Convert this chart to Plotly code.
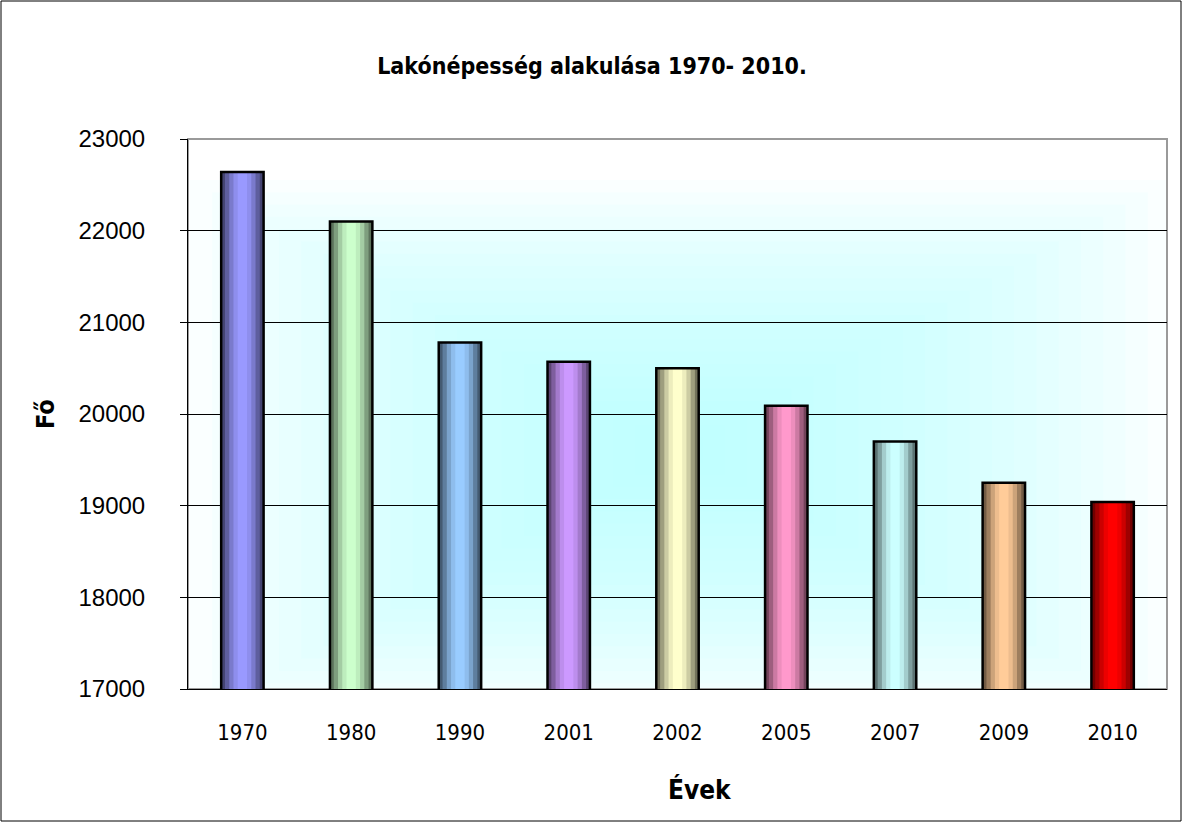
import plotly.graph_objects as go

years = ["1970", "1980", "1990", "2001", "2002", "2005", "2007", "2009", "2010"]
population = [22640, 22100, 20780, 20570, 20500, 20090, 19700, 19250, 19040]
light_colors = ["#9999FF", "#CCFFCC", "#99CCFF", "#CC99FF", "#FFFFCC",
                "#FF99CC", "#CCFFFF", "#FFCC99", "#FF0000"]
y_ticks = [17000, 18000, 19000, 20000, 21000, 22000, 23000]

title_text = "Lakónépesség alakulása 1970- 2010."
x_title = "Évek"
y_title = "Fő"

W, H = 1183, 823
L, R, T, B = 188, 1167, 139, 689
NARROW = "DejaVu Sans Condensed, Liberation Sans Narrow, Arial Narrow, sans-serif"
REG = "Liberation Sans, Arial, sans-serif"


def hex2rgb(h):
    h = h.lstrip("#")
    return [int(h[i:i + 2], 16) for i in (0, 2, 4)]


def mix(c, f):
    r, g, b = hex2rgb(c)
    return "rgb(%d,%d,%d)" % (r * f, g * f, b * f)


fig = go.Figure()
bar_w = 0.39
steps = [(1.0, 0.45), (0.82, 0.62), (0.62, 0.8), (0.42, 0.93), (0.22, 1.0)]
for frac, shade in steps:
    fig.add_trace(go.Bar(
        x=years, y=population, width=bar_w * frac,
        marker=dict(color=[mix(c, shade) for c in light_colors], line=dict(width=0)),
        hoverinfo="skip", showlegend=False,
    ))
fig.add_trace(go.Bar(
    x=years, y=population, width=bar_w,
    marker=dict(color="rgba(0,0,0,0)", line=dict(color="black", width=2.5)),
    showlegend=False,
))

pw, ph = R - L, B - T
shapes = []
# soft rectangular background glow
N = 22
cx, cy = (680 - L) / pw, (B - 450) / ph
hw, hh = 490 / pw, 270 / ph
for i in range(N):
    s = 1 - i / N
    shapes.append(dict(type="rect", xref="paper", yref="paper",
                       x0=max(0, cx - hw * s), x1=min(1, cx + hw * s),
                       y0=max(0, cy - hh * s), y1=min(1, cy + hh * s),
                       fillcolor="#B4F8FA", opacity=0.065, line=dict(width=0),
                       layer="below"))
# plot area grey frame
shapes.append(dict(type="rect", xref="paper", yref="paper", x0=0, x1=1, y0=0, y1=1,
                   line=dict(color="#9a9a9a", width=2), layer="below"))
# outer chart border
shapes.append(dict(type="rect", xref="paper", yref="paper",
                   x0=(1 - L) / pw, x1=(1181 - L) / pw,
                   y0=(B - 821) / ph, y1=(B - 1) / ph,
                   line=dict(color="black", width=1)))

fig.update_layout(
    width=W, height=H,
    margin=dict(l=L, r=W - R, t=T, b=H - B),
    paper_bgcolor="white", plot_bgcolor="white",
    barmode="overlay",
    showlegend=False,
    title=dict(text=title_text, x=592 / W, xanchor="center", y=1 - 66 / H, yanchor="middle",
               font=dict(family=NARROW, size=23, color="black", weight="bold")),
    shapes=shapes,
    annotations=[
        dict(text=x_title, xref="paper", yref="paper", x=(700 - L) / pw, y=(B - 789) / ph,
             showarrow=False, xanchor="center", yanchor="middle",
             font=dict(family=NARROW, size=26, color="black", weight="bold")),
        dict(text=y_title, xref="paper", yref="paper", x=(45 - L) / pw, y=(B - 414) / ph,
             showarrow=False, xanchor="center", yanchor="middle", textangle=-90,
             font=dict(family=NARROW, size=25, color="black", weight="bold")),
    ],
)
fig.update_xaxes(
    type="category", showgrid=False, showline=True, linecolor="black", linewidth=1,
    ticks="", ticklabelstandoff=24,
    tickfont=dict(family=NARROW, size=22, color="black"),
)
fig.update_yaxes(
    range=[17000, 23000], tickvals=y_ticks, tickformat="d", showgrid=True,
    gridcolor="black", gridwidth=1,
    showline=True, linecolor="black", linewidth=1, ticks="outside", ticklen=7,
    tickcolor="black", tickfont=dict(family=REG, size=24, color="black"),
    ticklabelstandoff=30, zeroline=False,
)

fig.write_html("out.html", config={"displayModeBar": False},
               post_script="document.body.style.margin='0px';")
